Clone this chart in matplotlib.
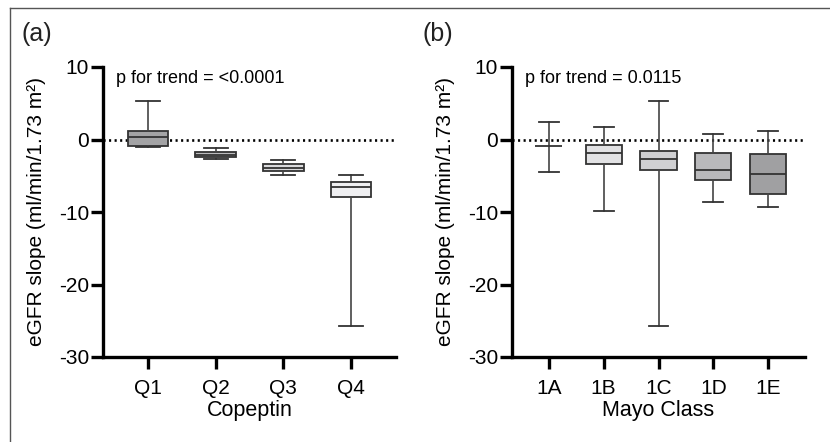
import matplotlib
matplotlib.use("Agg")
import matplotlib.pyplot as plt
from matplotlib.lines import Line2D

plt.rcParams['font.family'] = ['Liberation Sans', 'DejaVu Sans']
plt.rcParams['axes.unicode_minus'] = False

# panel (a): copeptin quartiles
cop_labels = ["Q1", "Q2", "Q3", "Q4"]
cop_whislo = [-1.06, -2.75, -4.96, -25.7]
cop_q1 = [-0.83, -2.44, -4.4, -7.9]
cop_med = [0.3, -2.07, -3.9, -6.6]
cop_q3 = [1.14, -1.7, -3.4, -5.9]
cop_whishi = [5.27, -1.24, -2.85, -4.96]
cop_colors = ["#a3a3a5", "#bcbcbe", "#dadadc", "#efeff1"]

# panel (b): Mayo class
mayo_labels = ["1A", "1B", "1C", "1D", "1E"]
mayo_whislo = [-4.46, -9.83, -25.7, -8.67, -9.32]
mayo_q1 = [-0.92, -3.36, -4.22, -5.64, -7.53]
mayo_med = [-0.92, -1.93, -2.71, -4.27, -4.82]
mayo_q3 = [-0.92, -0.69, -1.61, -1.84, -2.02]
mayo_whishi = [2.42, 1.73, 5.27, 0.73, 1.24]
mayo_colors = ["#ffffff", "#e2e2e4", "#d0d0d2", "#b9b9bb", "#a0a0a2"]

EDGE = "#333333"


def draw_panel(ax, labels, whislo, q1, med, q3, whishi, colors, widths,
               xlabel, ptext):
    stats = []
    for i, lab in enumerate(labels):
        stats.append(dict(label=lab, whislo=whislo[i], q1=q1[i], med=med[i],
                          q3=q3[i], whishi=whishi[i], fliers=[]))
    art = ax.bxp(stats, positions=range(len(labels)), widths=widths,
                 patch_artist=True, showfliers=False,
                 boxprops=dict(edgecolor=EDGE, linewidth=1.3),
                 medianprops=dict(color=EDGE, linewidth=1.3),
                 whiskerprops=dict(color="#444444", linewidth=1.2),
                 capprops=dict(color=EDGE, linewidth=1.3),
                 capwidths=0.36)
    for patch, c in zip(art['boxes'], colors):
        patch.set_facecolor(c)

    ax.axhline(0, color="black", linestyle=(0, (0.8, 1.3)), linewidth=1.9,
               zorder=0.5)
    ax.set_ylim(-30, 10)
    ax.set_yticks([-30, -20, -10, 0, 10])
    ax.set_xlim(-0.67, len(labels) - 0.33)
    ax.set_xticks(range(len(labels)))
    ax.set_xticklabels(labels)
    for s in ["top", "right"]:
        ax.spines[s].set_visible(False)
    for s in ["left", "bottom"]:
        ax.spines[s].set_linewidth(2.4)
    ax.tick_params(axis="both", width=2.4, length=8.5, labelsize=15,
                   direction="out")
    ax.tick_params(axis="y", pad=1.5)
    ax.tick_params(axis="x", pad=7)
    ax.set_ylabel("eGFR slope (ml/min/1.73 m\u00b2)", fontsize=15,
                  labelpad=9)
    ax.set_xlabel(xlabel, fontsize=15.5, labelpad=2)
    ax.text(0.045, 0.99, ptext, transform=ax.transAxes, fontsize=13,
            va="top", ha="left")


fig = plt.figure(figsize=(8.3, 4.42), dpi=100)
W, H = 830.0, 442.0
ax_a = fig.add_axes([103 / W, 1 - 357 / H, 293 / W, 290 / H])
ax_b = fig.add_axes([512 / W, 1 - 357 / H, 293 / W, 290 / H])

draw_panel(ax_a, cop_labels, cop_whislo, cop_q1, cop_med, cop_q3, cop_whishi,
           cop_colors, 0.6, "Copeptin", "p for trend = <0.0001")
draw_panel(ax_b, mayo_labels, mayo_whislo, mayo_q1, mayo_med, mayo_q3,
           mayo_whishi, mayo_colors, [0.5, 0.66, 0.66, 0.66, 0.66],
           "Mayo Class", "p for trend = 0.0115")
# 1A has no visible box outline, only the median bar
ax_b.patches[0].set_edgecolor("none")

fig.text(21 / W, 1 - 34 / H, "(a)", fontsize=18, va="center", ha="left",
         color="#222222")
fig.text(422 / W, 1 - 34 / H, "(b)", fontsize=18, va="center", ha="left",
         color="#222222")

# border of the figure panel (cut at right and bottom)
fig.add_artist(Line2D([10 / W, 1], [1 - 8 / H, 1 - 8 / H],
                      transform=fig.transFigure, color="#555555", lw=1))
fig.add_artist(Line2D([10 / W, 10 / W], [0, 1 - 8 / H],
                      transform=fig.transFigure, color="#555555", lw=1))

fig.savefig("out.png", dpi=100)
